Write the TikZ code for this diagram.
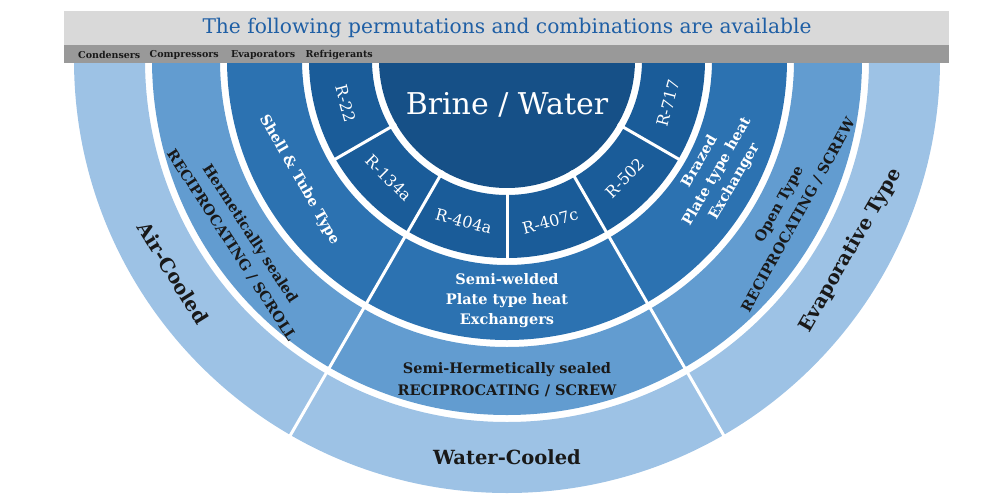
\documentclass[tikz,border=0pt]{standalone}
\usepackage{fontspec}
\setmainfont{DejaVu Serif}
\usetikzlibrary{positioning}
\definecolor{condcol}{RGB}{157,194,229}
\definecolor{compcol}{RGB}{98,156,208}
\definecolor{evapcol}{RGB}{44,114,177}
\definecolor{refcol}{RGB}{26,92,153}
\definecolor{corecol}{RGB}{22,80,135}
\definecolor{headgray}{RGB}{217,217,217}
\definecolor{bargray}{RGB}{153,153,153}
\definecolor{titleblue}{RGB}{31,95,165}
\begin{document}
\begin{tikzpicture}[x=1pt, y=1pt,
  divider/.style={white, line width=3},
  reflabel/.style={text=white, font=\fontsize{16}{19}\selectfont},
  evaplabel/.style={text=white, align=center, font=\bfseries\fontsize{14.5}{20}\selectfont},
  complabel/.style={text=black!90, align=center, font=\bfseries\fontsize{14.5}{22}\selectfont},
  condlabel/.style={text=black!90, font=\bfseries\fontsize{19.5}{23}\selectfont},
  headlabel/.style={text=black!90, inner sep=0pt, font=\bfseries\fontsize{9.5}{11}\selectfont}]
\useasboundingbox (0,0) rectangle (1000,-498);

\begin{scope}[shift={(507,-60)}]
% rings
\fill[condcol] (180:433) arc[start angle=180, end angle=360, radius=433] -- (0:362) arc[start angle=360, end angle=180, radius=362] -- cycle;
\fill[compcol] (180:355) arc[start angle=180, end angle=360, radius=355] -- (0:287) arc[start angle=360, end angle=180, radius=287] -- cycle;
\fill[evapcol] (180:280) arc[start angle=180, end angle=360, radius=280] -- (0:205) arc[start angle=360, end angle=180, radius=205] -- cycle;
\fill[refcol] (180:198) arc[start angle=180, end angle=360, radius=198] -- (0:135) arc[start angle=360, end angle=180, radius=135] -- cycle;
\fill[corecol] (180:128) arc[start angle=180, end angle=360, radius=128] -- cycle;

% dividers
\draw[divider] (240:128) -- (240:440);
\draw[divider] (300:128) -- (300:440);
\draw[divider] (210:128) -- (210:200);
\draw[divider] (270:128) -- (270:200);
\draw[divider] (330:128) -- (330:200);

% labels
\node (core) [text=white, font=\fontsize{30}{34}\selectfont] at (0,-45) {Brine / Water};

\node (r22) [reflabel, rotate=-75] at (195:167) {R-22};
\node (r134a) [reflabel, rotate=-45] at (225:167) {R-134a};
\node (r404a) [reflabel, rotate=-15] at (255:167) {R-404a};
\node (r407c) [reflabel, rotate=15] at (285:167) {R-407c};
\node (r502) [reflabel, rotate=45] at (315:167) {R-502};
\node (r717) [reflabel, rotate=75] at (345:167) {R-717};

\node (shell) [evaplabel, rotate=-60] at (210:240) {Shell \& Tube Type};
\node (semiwelded) [evaplabel] at (270:241) {Semi-welded\\Plate type heat\\Exchangers};
\node (brazed) [evaplabel, rotate=60] at (332:238) {Brazed\\Plate type heat\\Exchanger};

\node (hermetic) [complabel, rotate=-57] at (214:321) {Hermetically sealed\\RECIPROCATING / SCROLL};
\node (semiherm) [complabel] at (270:320) {Semi-Hermetically sealed\\RECIPROCATING / SCREW};
\node (open) [complabel, rotate=61] at (332:319) {Open Type\\RECIPROCATING / SCREW};

\node (air) [condlabel, rotate=-58] at (212.5:396) {Air-Cooled};
\node (water) [condlabel] at (270:397) {Water-Cooled};
\node (evaptype) [condlabel, rotate=60] at (331:393) {Evaporative Type};
\end{scope}

% header
\fill[headgray] (64,-11) rectangle (949,-45);
\fill[bargray] (64,-45) rectangle (949,-63);
\node (title) [text=titleblue, font=\fontsize{20.2}{24}\selectfont] at (507,-28) {The following permutations and combinations are available};
\node (condensers) [headlabel, anchor=west] at (78,-55) {Condensers};
\node (compressors) [headlabel, right=9pt of condensers] {Compressors};
\node (evaporators) [headlabel, right=12pt of compressors] {Evaporators};
\node (refrigerants) [headlabel, right=10pt of evaporators] {Refrigerants};
\end{tikzpicture}
\end{document}
